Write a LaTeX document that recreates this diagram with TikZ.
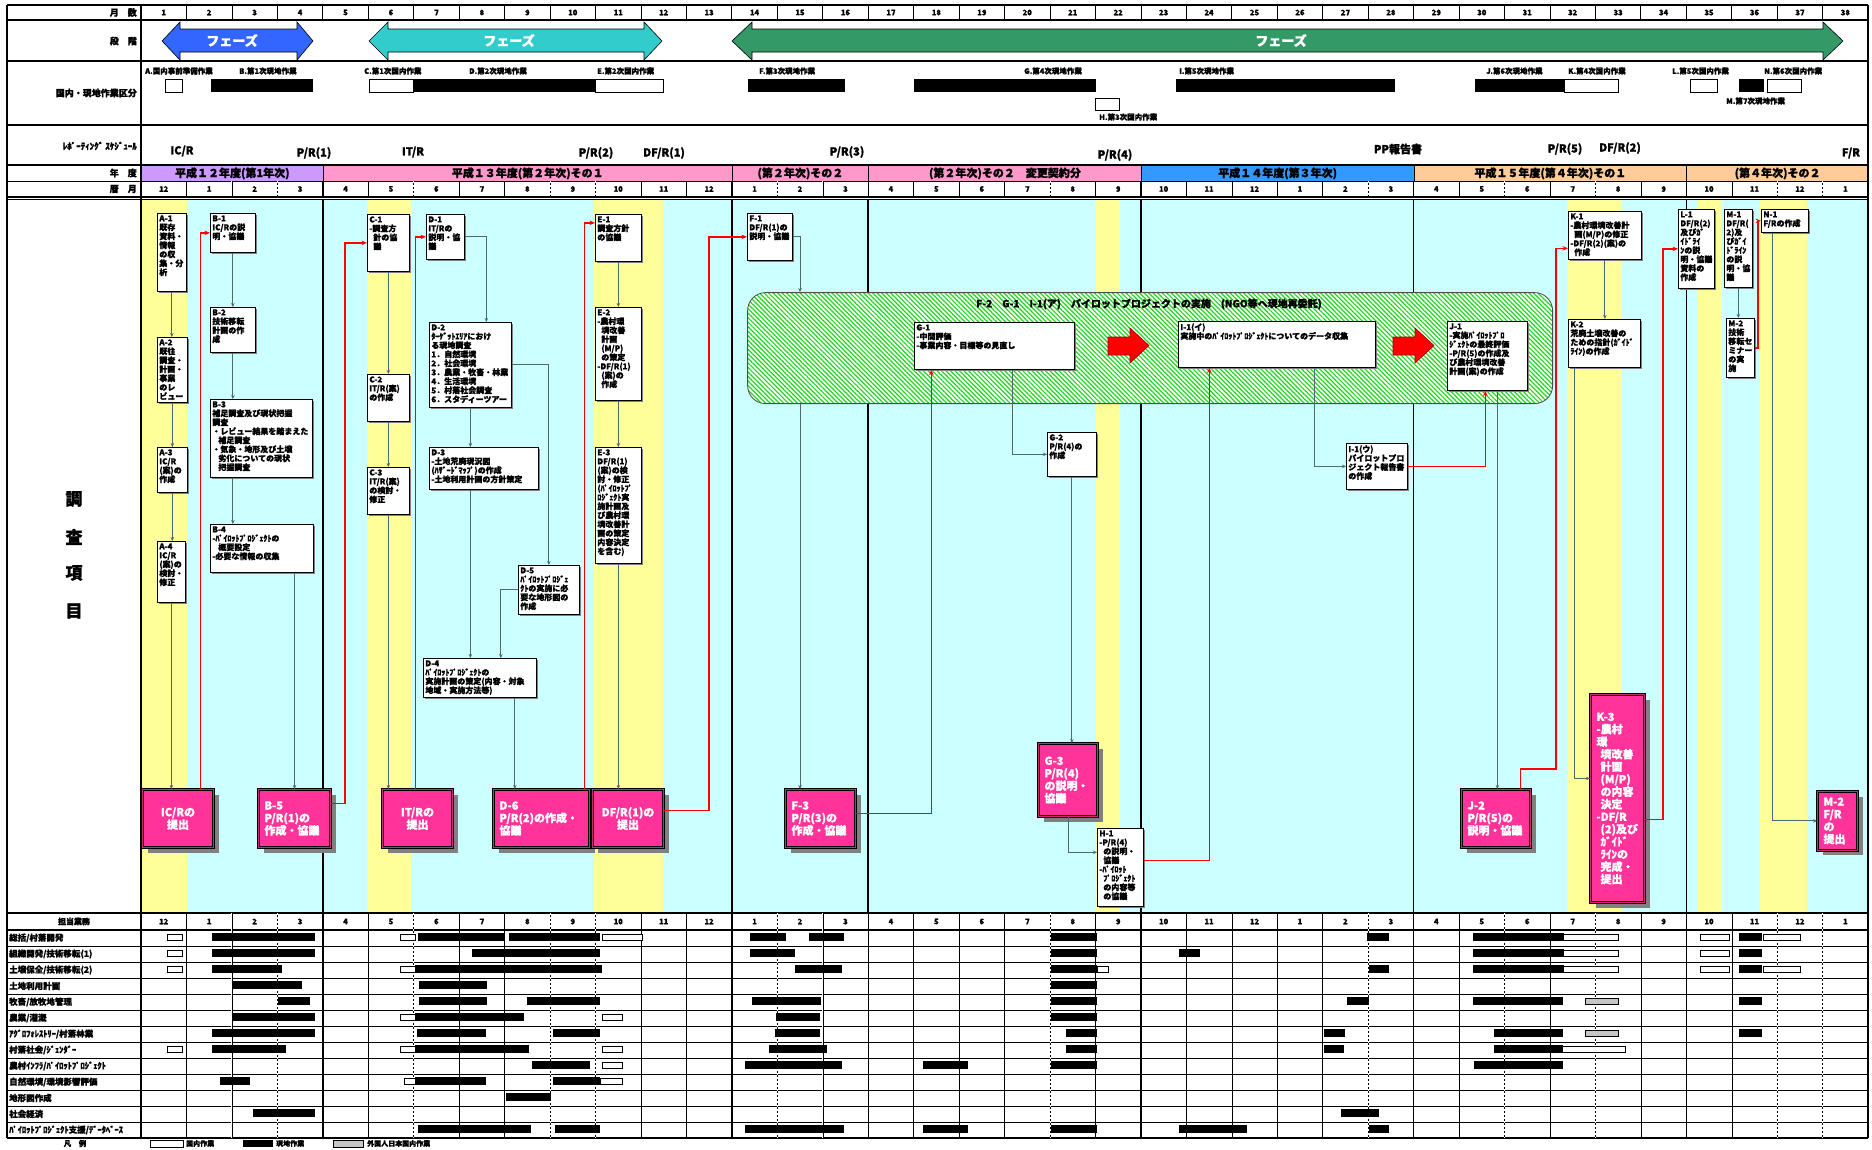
\documentclass[tikz,border=0pt]{standalone}
\usepackage{fontspec}
\setmainfont{Noto Sans CJK JP}[BoldFeatures={FakeBold=1.2}]
\usetikzlibrary{arrows.meta,patterns.meta,shadows}
\definecolor{bgcyan}{RGB}{204,255,255}
\definecolor{ylw}{RGB}{255,255,153}
\definecolor{pinkbox}{RGB}{255,51,153}
\definecolor{phblue}{RGB}{51,102,255}
\definecolor{phcyan}{RGB}{51,204,204}
\definecolor{phgreen}{RGB}{51,153,102}
\definecolor{fypurple}{RGB}{204,153,255}
\definecolor{fypink}{RGB}{255,153,204}
\definecolor{fyblue}{RGB}{51,153,255}
\definecolor{fyorange}{RGB}{255,204,153}
\definecolor{connc}{RGB}{80,105,105}
\definecolor{hatchg}{RGB}{30,215,30}
\definecolor{shadowc}{RGB}{128,128,128}
\newcommand\jfs[2]{\fontsize{#1}{#2}\selectfont}
\newcommand\wb[6]{\node[wbox] (#1) at (#2,#3) {\parbox[t][\dimexpr #5pt-#3pt-4pt\relax][t]{\dimexpr #4pt-#2pt-4pt\relax}{\raggedright #6}};}
\newcommand\pb[7]{\node[pinkb,minimum width={#4pt-#2pt},minimum height={#5pt-#3pt},text width={#4pt-#2pt-12pt},align=#6] (#1) at (#2,#3) {#7};}
\begin{document}
\begin{tikzpicture}[x=1pt,y=-1pt,font=\bfseries,
 wbox/.style={draw=black,line width=0.7pt,fill=white,inner sep=2pt,anchor=north west,font=\jfs{8}{9}\bfseries,drop shadow={shadow xshift=1.5pt,shadow yshift=-1.5pt,fill=shadowc,opacity=1}},
 pinkb/.style={fill=pinkbox,draw=black,line width=1pt,double=pinkbox!80!black,double distance=1pt,anchor=north west,inner sep=6pt,text=white,font=\jfs{11}{12.5}\bfseries,drop shadow={shadow xshift=5pt,shadow yshift=-5pt,fill=shadowc,opacity=1}},
 conn/.style={draw=connc,line width=0.9pt,-{Stealth[length=4pt,width=3.5pt]}},
 rconn/.style={draw=red,line width=1.6pt,-{Stealth[length=5.5pt,width=4.5pt]}},
 hlab/.style={anchor=east,font=\jfs{9}{9}\bfseries,inner sep=0pt},
 wlab/.style={anchor=west,font=\jfs{7.5}{8}\bfseries,inner sep=0pt},
 rlab/.style={font=\jfs{11}{11}\bfseries,inner sep=0pt},
 wtbar/.style={fill=white,draw=black,line width=.6pt}]
\useasboundingbox (0,0) rectangle (1872,1149);
\fill[white] (0,0) rectangle (1872,1149);
% main area background
\fill[bgcyan] (141,199) rectangle (1868,913);
\foreach \a/\b in {141/187,367/412,594/663,1096/1120,1567/1622,1697/1722,1760/1807}
  \fill[ylw] (\a,199) rectangle (\b,913);
\foreach \c in {4,13,16,22,28,34}
  \draw[line width=1.6pt] ({141+\c*45.45},199) -- ({141+\c*45.45},913);
% fiscal year bands
\foreach \a/\b/\col/\t in {0/4/fypurple/平成１２年度(第1年次),4/13/fypink/平成１３年度(第２年次)その１,13/16/fypink/(第２年次)その２,16/22/fypink/(第２年次)その２　変更契約分,22/28/fyblue/平成１４年度(第３年次),28/34/fyorange/平成１５年度(第４年次)その１,34/38/fyorange/(第４年次)その２}
  \node[fill=\col,draw=black,line width=.8pt,minimum width={(\b-\a)*45.45pt},minimum height=16pt,anchor=north west,inner sep=0pt,font=\jfs{11}{11}\bfseries] at ({141+\a*45.45},165) {\t};
% table lines
\draw[line width=1.6pt] (7,5) -- (1868,5);
\foreach \y in {20,61,125,165} \draw[line width=1.6pt] (7,\y) -- (1868,\y);
\draw[line width=.8pt] (7,181) -- (1868,181);
\draw[line width=1.6pt] (7,197) -- (1868,197);
\draw[line width=.6pt] (7,199.5) -- (1868,199.5);
\draw[line width=1.6pt] (7,913) -- (1868,913);
\draw[line width=1.2pt] (7,930) -- (1868,930);
\foreach \k in {1,...,12} \draw[line width=.8pt] (7,{930+\k*16}) -- (1868,{930+\k*16});
\draw[line width=1.6pt] (7,1138) -- (1868,1138);
\draw[line width=1.6pt] (7,5) -- (7,1138);
\draw[line width=1.6pt] (141,5) -- (141,1138);
\draw[line width=1.6pt] (1868,5) -- (1868,1138);
\foreach \c in {1,...,37} \draw[line width=.8pt] ({141+\c*45.45},5) -- ({141+\c*45.45},20);
\foreach \c in {1,...,37} \draw[line width=.5pt] ({141+\c*45.45},913) -- ({141+\c*45.45},1138);
\foreach \c in {1,...,37} \draw[line width=.5pt] ({141+\c*45.45},181) -- ({141+\c*45.45},197);
\foreach \c in {2,3,6,9,10,14,15,20,27,30,32,36,37} {
  \draw[white,line width=1pt,dash pattern=on 2pt off 2pt] ({141+\c*45.45},913) -- ({141+\c*45.45},1138);
  \draw[white,line width=1pt,dash pattern=on 2pt off 2pt] ({141+\c*45.45},181) -- ({141+\c*45.45},197);}
\foreach \c in {4,13,16,22,28,34} {
  \draw[line width=1.2pt] ({141+\c*45.45},913) -- ({141+\c*45.45},1138);
  \draw[line width=1.2pt] ({141+\c*45.45},181) -- ({141+\c*45.45},197);}
% month numbers
\foreach \c in {1,...,38} {
  \pgfmathtruncatemacro\m{mod(\c+10,12)+1}
  \node[font=\jfs{7.5}{8}\bfseries,inner sep=0pt] at ({141+(\c-0.5)*45.45},12.5) {\c};
  \node[font=\jfs{7.5}{8}\bfseries,inner sep=0pt] at ({141+(\c-0.5)*45.45},189) {\m};
  \node[font=\jfs{7.5}{8}\bfseries,inner sep=0pt] at ({141+(\c-0.5)*45.45},921.5) {\m};}
% header labels
\node[hlab] (h1lab) at (137,12.5) {月　数};
\node[hlab] (h2lab) at (137,41) {段　階};
\node[hlab] (h3lab) at (137,93) {国内・現地作業区分};
\node[hlab] (h4lab) at (137,146) {ﾚﾎﾟｰﾃｨﾝｸﾞ ｽｹｼﾞｭｰﾙ};
\node[hlab] (h5lab) at (137,173) {年　度};
\node[hlab] (h6lab) at (137,189) {暦　月};
% phase arrows
\filldraw[fill=phblue,draw=black,line width=.6pt] (162,41) -- (180,22) -- (180,29) -- (297,29) -- (297,22) -- (313,41) -- (297,60) -- (297,52) -- (180,52) -- (180,60) -- cycle;
\filldraw[fill=phcyan,draw=black,line width=.6pt] (369,41) -- (388,22) -- (388,29) -- (644,29) -- (644,22) -- (662,41) -- (644,60) -- (644,52) -- (388,52) -- (388,60) -- cycle;
\filldraw[fill=phgreen,draw=black,line width=.6pt] (732,41) -- (752,22) -- (752,29) -- (1823,29) -- (1823,22) -- (1843,41) -- (1823,60) -- (1823,52) -- (752,52) -- (752,60) -- cycle;
\node[text=white,font=\jfs{13}{13}\bfseries] (ph1) at (232,40.5) {フェーズ};
\node[text=white,font=\jfs{13}{13}\bfseries] (ph2) at (509,40.5) {フェーズ};
\node[text=white,font=\jfs{13}{13}\bfseries] (ph3) at (1281,40.5) {フェーズ};
% work periods
\foreach \a/\b in {211/313,413/595,748/845,914/1096,1176/1395,1475/1564,1739/1764} \fill[black] (\a,79) rectangle (\b,92);
\foreach \a/\b in {165/182,369/413,595/663,1564/1618,1690/1717,1767/1801} \filldraw[fill=white,draw=black,line width=.7pt] (\a,79) rectangle (\b,92);
\filldraw[fill=white,draw=black,line width=.7pt] (1095,98) rectangle (1119,110);
\node[wlab] (wa) at (145,71) {A.国内事前準備作業};
\node[wlab] (wbb) at (239,71) {B.第1次現地作業};
\node[wlab] (wc) at (364,71) {C.第1次国内作業};
\node[wlab] (wd) at (469,71) {D.第2次現地作業};
\node[wlab] (we) at (597,71) {E.第2次国内作業};
\node[wlab] (wf) at (759,71) {F.第3次現地作業};
\node[wlab] (wg) at (1024,71) {G.第4次現地作業};
\node[wlab] (wh) at (1099,117) {H.第3次国内作業};
\node[wlab] (wi) at (1179,71) {I.第5次現地作業};
\node[wlab] (wj) at (1486,71) {J.第6次現地作業};
\node[wlab] (wk) at (1568,71) {K.第4次国内作業};
\node[wlab] (wl) at (1672,71) {L.第5次国内作業};
\node[wlab] (wm) at (1726,101) {M.第7次現地作業};
\node[wlab] (wn) at (1764,71) {N.第6次国内作業};
% reporting schedule
\node[rlab] (r1) at (182,151) {IC/R};
\node[rlab] (r2) at (314,153) {P/R(1)};
\node[rlab] (r3) at (413,152) {IT/R};
\node[rlab] (r4) at (596,153) {P/R(2)};
\node[rlab] (r5) at (664,153) {DF/R(1)};
\node[rlab] (r6) at (847,152) {P/R(3)};
\node[rlab] (r7) at (1115,155) {P/R(4)};
\node[rlab] (r8) at (1398,149) {PP報告書};
\node[rlab] (r9) at (1565,149) {P/R(5)};
\node[rlab] (r10) at (1620,148) {DF/R(2)};
\node[rlab] (r11) at (1851,153) {F/R};
% side label
\foreach \ch/\yy in {調/499,査/537,項/573,目/611} \node[font=\jfs{17}{17}\bfseries] at (74,\yy) {\ch};
% banner
\node[draw=black!70,line width=.8pt,rounded corners=18pt,preaction={fill=white},pattern={Lines[angle=-45,distance=3.2pt,line width=1.2pt]},pattern color=hatchg,minimum width=805pt,minimum height=111pt,anchor=north west,inner sep=0pt] (f2) at (747,292) {};
\node[font=\jfs{10}{10}\bfseries,inner sep=0pt] (f2t) at (1149,304) {F-2　G-1　I-1(ア)　パイロットプロジェクトの実施　(NGO等へ現地再委託)};
\filldraw[fill=red,draw=red!60!black,line width=.6pt] (1108,337) -- (1130,337) -- (1130,328) -- (1149,345.5) -- (1130,363) -- (1130,355) -- (1108,355) -- cycle;
\filldraw[fill=red,draw=red!60!black,line width=.6pt] (1393,337) -- (1415,337) -- (1415,328) -- (1434,345.5) -- (1415,363) -- (1415,355) -- (1393,355) -- cycle;
% white boxes
\wb{a1}{157}{213}{186}{291}{A-1\\既存\\資料・\\情報\\の収\\集・分\\析}
\wb{a2}{157}{337}{187}{402}{A-2\\既往\\調査・\\計画・\\事業\\のレ\\ビュー}
\wb{a3}{157}{447}{187}{492}{A-3\\IC/R\\(案)の\\作成}
\wb{a4}{157}{541}{185}{602}{A-4\\IC/R\\(案)の\\検討・\\修正}
\wb{b1}{210}{213}{255}{252}{B-1\\IC/Rの説\\明・協議}
\wb{b2}{210}{307}{255}{352}{B-2\\技術移転\\計画の作\\成}
\wb{b3}{210}{399}{312}{477}{B-3\\補足調査及び現状把握\\調査\\・レビュー結果を踏まえた\\\hspace*{6pt}補足調査\\・気象・地形及び土壌\\\hspace*{6pt}劣化についての現状\\\hspace*{6pt}把握調査}
\wb{b4}{210}{524}{313}{572}{B-4\\-ﾊﾟｲﾛｯﾄﾌﾟﾛｼﾞｪｸﾄの\\\hspace*{6pt}概要設定\\-必要な情報の収集}
\wb{c1}{367}{214}{409}{271}{C-1\\-調査方\\\hspace*{4pt}針の協\\\hspace*{4pt}議}
\wb{c2}{367}{374}{409}{421}{C-2\\IT/R(案)\\の作成}
\wb{c3}{367}{467}{409}{514}{C-3\\IT/R(案)\\の検討・\\修正}
\wb{d1}{426}{214}{464}{259}{D-1\\IT/Rの\\説明・協\\議}
\wb{d2}{429}{322}{511}{407}{D-2\\ﾀｰｹﾞｯﾄｴﾘｱにおけ\\る現地調査\\1．自然環境\\2．社会環境\\3．農業・牧畜・林業\\4．生活環境\\5．村落社会調査\\6．スタディーツアー}
\wb{d3}{429}{447}{538}{489}{D-3\\-土地荒廃現況図\\(ﾊｻﾞｰﾄﾞﾏｯﾌﾟ)の作成\\-土地利用計画の方針策定}
\wb{d4}{423}{658}{536}{697}{D-4\\ﾊﾟｲﾛｯﾄﾌﾟﾛｼﾞｪｸﾄの\\実施計画の策定(内容・対象\\地域・実施方法等)}
\wb{d5}{518}{565}{579}{614}{D-5\\ﾊﾟｲﾛｯﾄﾌﾟﾛｼﾞｪ\\ｸﾄの実施に必\\要な地形図の\\作成}
\wb{e1}{595}{214}{641}{261}{E-1\\調査方針\\の協議}
\wb{e2}{595}{307}{641}{400}{E-2\\-農村環\\\hspace*{4pt}境改善\\\hspace*{4pt}計画\\\hspace*{4pt}(M/P)\\\hspace*{4pt}の策定\\-DF/R(1)\\\hspace*{4pt}(案)の\\\hspace*{4pt}作成}
\wb{e3}{595}{447}{641}{563}{E-3\\DF/R(1)\\(案)の検\\討・修正\\(ﾊﾟｲﾛｯﾄﾌﾟ\\ﾛｼﾞｪｸﾄ実\\施計画及\\び農村環\\境改善計\\画の策定\\内容決定\\を含む)}
\wb{f1}{747}{213}{792}{260}{F-1\\DF/R(1)の\\説明・協議}
\wb{g1}{914}{322}{1074}{369}{G-1\\-中間評価\\-事業内容・目標等の見直し}
\wb{i1b}{1178}{321}{1375}{367}{I-1(イ)\\実施中のﾊﾟｲﾛｯﾄﾌﾟﾛｼﾞｪｸﾄについてのデータ収集}
\wb{j1}{1447}{321}{1527}{390}{J-1\\-実施ﾊﾟｲﾛｯﾄﾌﾟﾛ\\ｼﾞｪｸﾄの最終評価\\-P/R(5)の作成及\\び農村環境改善\\計画(案)の作成}
\wb{g2}{1047}{432}{1096}{476}{G-2\\P/R(4)の\\作成}
\wb{i1c}{1346}{443}{1407}{489}{I-1(ウ)\\パイロットプロ\\ジェクト報告書\\の作成}
\wb{h1}{1097}{828}{1143}{906}{H-1\\-P/R(4)\\\hspace*{4pt}の説明・\\\hspace*{4pt}協議\\-ﾊﾟｲﾛｯﾄ\\\hspace*{4pt}ﾌﾟﾛｼﾞｪｸﾄ\\\hspace*{4pt}の内容等\\\hspace*{4pt}の協議}
\wb{k1}{1568}{211}{1641}{259}{K-1\\-農村環境改善計\\\hspace*{4pt}画(M/P)の修正\\-DF/R(2)(案)の\\\hspace*{4pt}作成}
\wb{k2}{1568}{319}{1640}{367}{K-2\\荒廃土壌改善の\\ための指針(ｶﾞｲﾄﾞ\\ﾗｲﾝ)の作成}
\wb{l1}{1678}{209}{1714}{288}{L-1\\DF/R(2)\\及びｶﾞ\\ｲﾄﾞﾗｲ\\ﾝの説\\明・協議\\資料の\\作成}
\wb{m1}{1724}{209}{1752}{287}{M-1\\DF/R(\\2)及\\びｶﾞｲ\\ﾄﾞﾗｲﾝ\\の説\\明・協\\議}
\wb{n1}{1761}{209}{1808}{232}{N-1\\F/Rの作成}
\wb{m2a}{1726}{318}{1754}{377}{M-2\\技術\\移転セ\\ミナー\\の実\\施}
% pink boxes
\pb{icr}{142}{789}{213}{847}{center}{IC/Rの\\提出}
\pb{b5}{258}{789}{330}{847}{left}{B-5\\P/R(1)の\\作成・協議}
\pb{itr}{382}{789}{452}{847}{center}{IT/Rの\\提出}
\pb{d6}{493}{789}{589}{847}{left}{D-6\\P/R(2)の作成・\\協議}
\pb{dfr1}{592}{789}{663}{847}{center}{DF/R(1)の\\提出}
\pb{f3}{785}{789}{855}{847}{left}{F-3\\P/R(3)の\\作成・協議}
\pb{g3}{1038}{743}{1097}{816}{left}{G-3\\P/R(4)\\の説明・\\協議}
\pb{j2}{1461}{789}{1530}{847}{left}{J-2\\P/R(5)の\\説明・協議}
\pb{k3}{1590}{694}{1644}{902}{left}{K-3\\-農村\\環\\\hspace*{4pt}境改善\\\hspace*{4pt}計画\\\hspace*{4pt}(M/P)\\\hspace*{4pt}の内容\\\hspace*{4pt}決定\\-DF/R\\\hspace*{4pt}(2)及び\\\hspace*{4pt}ｶﾞｲﾄﾞ\\\hspace*{4pt}ﾗｲﾝの\\\hspace*{4pt}完成・\\\hspace*{4pt}提出}
\pb{m2b}{1817}{791}{1857}{848}{left}{M-2\\F/R\\の\\提出}
% connectors
\draw[conn] (a1.south) -- (a1.south |- a2.north);
\draw[conn] (a2.south) -- (a2.south |- a3.north);
\draw[conn] (a3.south) -- (a3.south |- a4.north);
\draw[conn] (a4.south) -- (a4.south |- icr.north);
\draw[conn] (b1.south) -- (b1.south |- b2.north);
\draw[conn] (b2.south) -- (b2.south |- b3.north);
\draw[conn] (b3.south -| b2.south) -- (b4.north -| b2.south);
\draw[conn] (b4.south -| b5.north) -- (b5.north);
\draw[conn] (c1.south) -- (c1.south |- c2.north);
\draw[conn] (c2.south) -- (c2.south |- c3.north);
\draw[conn] (c3.south) -- (c3.south |- itr.north);
\draw[conn] (d1.east) -| ([xshift=16pt]d2.north);
\draw[conn] (d2.south) -- (d2.south |- d3.north);
\draw[conn] (d2.east) -| (d5.north);
\draw[conn] (d3.south -| d2.south) -- (d4.north -| d2.south);
\draw[conn] (d5.west) -| ([xshift=21pt]d4.north);
\draw[conn] ([xshift=35pt]d4.south) -- ([xshift=35pt]d4.south |- d6.north);
\draw[conn] (e1.south) -- (e1.south |- e2.north);
\draw[conn] (e2.south) -- (e2.south |- e3.north);
\draw[conn] (e3.south) -- (e3.south |- dfr1.north);
\draw[conn] (f1.east) -| (f2.north -| 800,0);
\draw[conn] (f2.south -| 800,0) -- (f3.north -| 800,0);
\draw[conn] (g1.south -| 1012,0) |- (g2.west);
\draw[conn] (g2.south) -- (g2.south |- g3.north);
\draw[conn] (g3.south) |- ([yshift=15pt]h1.west);
\draw[conn] (i1b.south -| 1314,0) |- (i1c.west);
\draw[conn] ([xshift=10pt]j1.south) -- ([xshift=10pt]j1.south |- j2.north);
\draw[conn] (k1.south) -- (k1.south |- k2.north);
\draw[conn] (k2.south -| 1574,0) |- ([yshift=20pt]k3.west);
\draw[conn] (m1.south) -- (m1.south |- m2a.north);
\draw[conn] (n1.south -| 1772,0) |- (m2b.west);
\draw[rconn] ([xshift=22.5pt]icr.north) |- (b1.west);
\draw[rconn] ([yshift=15pt]b5.east) -| ([xshift=-22pt]c1.west) -- (c1.west);
\draw[rconn] ([xshift=-2pt]itr.north) |- (d1.west);
\draw[rconn] ([xshift=43pt]d6.north) |- ([yshift=15pt]e1.west);
\draw[rconn] ([yshift=8pt]dfr1.east) -| ([xshift=-38pt]f1.west) -- (f1.west);
\draw[rconn] ([yshift=5pt]f3.east) -| ([xshift=-63pt]g1.south);
\draw[rconn] ([yshift=7pt]h1.east) -| ([xshift=-67.5pt]i1b.south);
\draw[rconn] (i1c.east) -| ([xshift=-2pt]j1.south);
\draw[rconn] ([xshift=24.5pt]j2.north) |- (1556,769) |- ([yshift=-13pt]k1.west);
\draw[rconn] ([yshift=-21pt]k3.east) -| ([xshift=-15pt]l1.west) -- (l1.west);
\draw[rconn] (m2a.east) -| ([xshift=-3pt]n1.west) -- (n1.west);
% bottom table labels
\node[font=\jfs{8}{8}\bfseries,inner sep=0pt] (tanto) at (74,921.5) {担当業務};
\foreach \t [count=\k] in {総括/村落開発,組織開発/技術移転(1),土壌保全/技術移転(2),土地利用計画,牧畜/放牧地管理,農業/灌漑,ｱｸﾞﾛﾌｫﾚｽﾄﾘｰ/村落林業,村落社会/ｼﾞｪﾝﾀﾞｰ,農村ｲﾝﾌﾗ/ﾊﾟｲﾛｯﾄﾌﾟﾛｼﾞｪｸﾄ,自然環境/環境影響評価,地形図作成,社会経済,ﾊﾟｲﾛｯﾄﾌﾟﾛｼﾞｪｸﾄ支援/ﾃﾞｰﾀﾍﾞｰｽ}
  \node[anchor=west,font=\jfs{8.5}{9}\bfseries,inner sep=0pt] at (9,{930+(\k-0.5)*16}) {\t};
% bars
\foreach \r/\p/\q in {1/1.57/3.83,1/6.1/8.0,1/8.1/10.1,1/13.4/14.2,1/14.7/15.46,1/20.02/21.03,1/26.98/27.45,1/29.3/31.3,1/35.17/35.67,
 2/1.57/3.83,2/7.28/10.1,2/13.4/14.4,2/20.02/21.03,2/22.83/23.3,2/29.3/31.3,2/35.17/35.67,
 3/1.57/3.1,3/6.03/10.15,3/14.4/15.42,3/20.02/21.03,3/27.02/27.45,3/29.3/31.3,3/35.17/35.67,
 4/2.02/3.55,4/6.12/7.61,4/20.02/21.03,
 5/3.02/3.72,5/6.12/7.61,5/8.5/10.1,5/13.45/14.97,5/20.02/21.03,5/26.53/27.02,5/29.3/31.28,5/35.17/35.67,
 6/2.02/3.83,6/6.03/8.43,6/13.97/14.93,6/20.02/21.03,
 7/1.57/3.83,7/6.07/7.59,7/9.06/10.1,7/13.94/14.93,7/20.36/21.03,7/26.03/26.49,7/29.76/31.28,7/35.17/35.67,
 8/1.57/3.19,8/6.03/8.54,8/13.81/15.1,8/20.36/21.03,8/26.03/26.47,8/29.76/31.28,
 9/8.6/9.88,9/13.28/15.42,9/17.2/18.2,9/20.02/21.03,9/29.33/31.28,
 10/1.74/2.4,10/6.03/7.59,10/9.06/10.1,
 11/8.03/9.02,
 12/2.47/3.83,12/26.4/27.23,
 13/6.1/8.58,13/9.1/10.1,13/13.28/15.46,13/17.2/18.2,13/20.02/21.03,13/22.83/24.34,13/27.02/27.45}
  \fill[black] ({141+\p*45.45},{930+(\r-1)*16+3}) rectangle ({141+\q*45.45},{930+(\r-1)*16+11});
\foreach \r/\p/\q in {1/.58/.91,1/5.7/6.03,1/10.15/11.04,1/31.3/32.5,1/34.3/34.95,1/35.7/36.5,
 2/.58/.91,2/31.3/32.5,2/34.3/34.95,
 3/.58/.91,3/5.7/6.03,3/21.03/21.28,3/31.3/32.5,3/34.3/34.95,3/35.7/36.5,
 6/5.7/6.03,6/10.15/10.58,
 8/.58/.91,8/5.7/6.03,8/10.15/10.58,8/31.28/32.66,
 9/10.15/10.58,
 10/5.8/6.03,10/10.1/10.58}
  \filldraw[wtbar] ({141+\p*45.45},{930+(\r-1)*16+4}) rectangle ({141+\q*45.45},{930+(\r-1)*16+10});
\foreach \r/\p/\q in {5/31.78/32.5,7/31.78/32.5}
  \filldraw[fill=gray!45,draw=black,line width=.6pt] ({141+\p*45.45},{930+(\r-1)*16+4}) rectangle ({141+\q*45.45},{930+(\r-1)*16+10});
% legend
\node[font=\jfs{7.5}{8}\bfseries,inner sep=0pt] (lg0) at (75,1143.5) {凡　例};
\filldraw[wtbar] (150,1140) rectangle (183,1147);
\node[anchor=west,font=\jfs{7}{8}\bfseries,inner sep=0pt] (lg1) at (186,1143.5) {国内作業};
\fill[black] (243,1140) rectangle (273,1147);
\node[anchor=west,font=\jfs{7}{8}\bfseries,inner sep=0pt] (lg2) at (276,1143.5) {現地作業};
\filldraw[fill=gray!45,draw=black,line width=.6pt] (333,1140) rectangle (363,1147);
\node[anchor=west,font=\jfs{7}{8}\bfseries,inner sep=0pt] (lg3) at (367,1143.5) {外国人日本国内作業};
\end{tikzpicture}
\end{document}
